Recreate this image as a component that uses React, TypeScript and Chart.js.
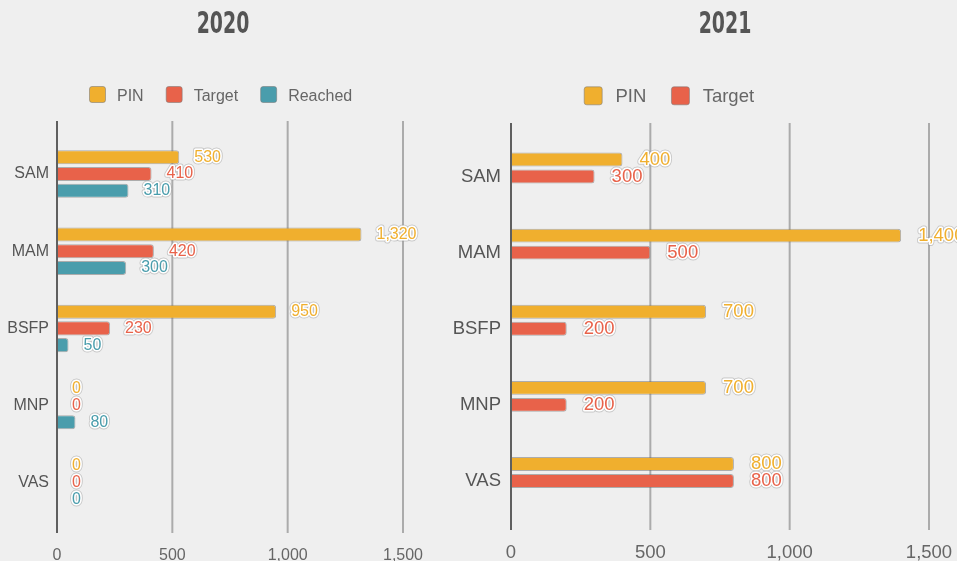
import React, { useEffect, useRef } from 'react';
import { Chart, registerables } from 'chart.js';

Chart.register(...registerables);

// ---------- data ----------
const categories = ['SAM', 'MAM', 'BSFP', 'MNP', 'VAS'];
const seriesNames = ['PIN', 'Target', 'Reached'];
const xTicks = [0, 500, 1000, 1500];

const pin2020 = [530, 1320, 950, 0, 0];
const target2020 = [410, 420, 230, 0, 0];
const reached2020 = [310, 300, 50, 80, 0];

const pin2021 = [400, 1400, 700, 700, 800];
const target2021 = [300, 500, 200, 200, 800];
const reached2021: (number | null)[] = [null, null, null, null, null];

const titles = ['2020', '2021'];

// ---------- styles ----------
const PIN_COLOR = '#F0AF2E';
const TARGET_COLOR = '#E8624A';
const REACHED_COLOR = '#4A9DAC';
const BG = '#EFEFEF';
const H = 561;
const FONT = '"Liberation Sans", Arial, sans-serif';

type DS = { label: string; data: (number | null)[]; color: string; legend: boolean };
type Spec = {
  width: number; left: number; fontSize: number;
  title: string; titleX: number; titleBaseline: number;
  legendX: number; legendBaseline: number; boxSize: number; boxCenterY: number; boxGap: number; itemGap: number;
  chartTop: number; chartBottom: number; yAxisWidth: number; padRight: number; yTickPad: number; xTickPad: number;
  gridTop: number; gridBottom: number; labelOffset: number; catPct: number; barPct: number;
  datasets: DS[];
};

const specs: Spec[] = [
  {
    width: 450, left: 0, fontSize: 16,
    title: titles[0], titleX: 223, titleBaseline: 33,
    legendX: 89, legendBaseline: 100.5, boxSize: 17, boxCenterY: 94.5, boxGap: 11, itemGap: 22,
    chartTop: 135.4, chartBottom: 521.4, yAxisWidth: 57, padRight: 47, yTickPad: 8, xTickPad: 25,
    gridTop: 121, gridBottom: 533, labelOffset: 15, catPct: 0.65, barPct: 0.84,
    datasets: [
      { label: seriesNames[0], data: pin2020, color: PIN_COLOR, legend: true },
      { label: seriesNames[1], data: target2020, color: TARGET_COLOR, legend: true },
      { label: seriesNames[2], data: reached2020, color: REACHED_COLOR, legend: true },
    ],
  },
  {
    width: 512, left: 445, fontSize: 18.5,
    title: titles[1], titleX: 280, titleBaseline: 33,
    legendX: 138.7, legendBaseline: 102, boxSize: 19, boxCenterY: 95.8, boxGap: 12.7, itemGap: 24.7,
    chartTop: 138.4, chartBottom: 519.1, yAxisWidth: 66, padRight: 28, yTickPad: 10, xTickPad: 23,
    gridTop: 123, gridBottom: 530, labelOffset: 17, catPct: 0.67, barPct: 0.82,
    datasets: [
      { label: seriesNames[0], data: pin2021, color: PIN_COLOR, legend: true },
      { label: seriesNames[1], data: target2021, color: TARGET_COLOR, legend: true },
      { label: seriesNames[2], data: reached2021, color: REACHED_COLOR, legend: false },
    ],
  },
];

function roundRect(ctx: CanvasRenderingContext2D, x: number, y: number, w: number, h: number, r: number) {
  ctx.beginPath();
  ctx.moveTo(x + r, y);
  ctx.lineTo(x + w - r, y);
  ctx.quadraticCurveTo(x + w, y, x + w, y + r);
  ctx.lineTo(x + w, y + h - r);
  ctx.quadraticCurveTo(x + w, y + h, x + w - r, y + h);
  ctx.lineTo(x + r, y + h);
  ctx.quadraticCurveTo(x, y + h, x, y + h - r);
  ctx.lineTo(x, y + r);
  ctx.quadraticCurveTo(x, y, x + r, y);
  ctx.closePath();
}

function makePlugins(spec: Spec) {
  const header = {
    id: 'header',
    afterDraw(chart: any) {
      const ctx: CanvasRenderingContext2D = chart.ctx;
      ctx.save();
      // title (condensed look)
      ctx.save();
      ctx.translate(spec.titleX, spec.titleBaseline);
      ctx.scale(0.7, 1);
      ctx.font = 'bold 30px "Liberation Sans Narrow", "DejaVu Sans Condensed", sans-serif';
      ctx.fillStyle = '#555555';
      ctx.textAlign = 'center';
      ctx.textBaseline = 'alphabetic';
      ctx.fillText(spec.title, 0, 0);
      ctx.restore();
      // legend
      let x = spec.legendX;
      ctx.font = `${spec.fontSize}px ${FONT}`;
      ctx.textAlign = 'left';
      ctx.textBaseline = 'alphabetic';
      spec.datasets.filter((d) => d.legend).forEach((d) => {
        const b = spec.boxSize;
        roundRect(ctx, x + 0.5, spec.boxCenterY - b / 2 + 0.5, b - 1, b - 1, 2.5);
        ctx.fillStyle = d.color;
        ctx.fill();
        ctx.strokeStyle = 'rgba(120,120,120,0.55)';
        ctx.lineWidth = 1;
        ctx.stroke();
        const tx = x + b + spec.boxGap;
        ctx.fillStyle = '#666666';
        ctx.fillText(d.label, tx, spec.legendBaseline);
        x = tx + ctx.measureText(d.label).width + spec.itemGap;
      });
      ctx.restore();
    },
  };

  const grid = {
    id: 'vgrid',
    beforeDatasetsDraw(chart: any) {
      const ctx: CanvasRenderingContext2D = chart.ctx;
      const xs = chart.scales.x;
      ctx.save();
      ctx.strokeStyle = '#ababab';
      ctx.lineWidth = 2;
      xTicks.forEach((v) => {
        if (v === 0) return;
        const x = xs.getPixelForValue(v);
        ctx.beginPath();
        ctx.moveTo(x, spec.gridTop);
        ctx.lineTo(x, spec.gridBottom);
        ctx.stroke();
      });
      ctx.restore();
    },
    afterDatasetsDraw(chart: any) {
      const ctx: CanvasRenderingContext2D = chart.ctx;
      const xs = chart.scales.x;
      ctx.save();
      const x0 = xs.getPixelForValue(0);
      ctx.strokeStyle = '#5f5f5f';
      ctx.lineWidth = 2;
      ctx.beginPath();
      ctx.moveTo(x0, spec.gridTop);
      ctx.lineTo(x0, spec.gridBottom);
      ctx.stroke();

      // value labels
      ctx.font = `${spec.fontSize}px ${FONT}`;
      ctx.textAlign = 'left';
      ctx.textBaseline = 'middle';
      ctx.lineJoin = 'round';
      chart.data.datasets.forEach((ds: any, i: number) => {
        const meta = chart.getDatasetMeta(i);
        meta.data.forEach((el: any, j: number) => {
          const v = ds.data[j];
          if (v === null || v === undefined) return;
          const { x, y } = el.getProps(['x', 'y'], true);
          const text = Number(v).toLocaleString('en-US');
          const tx = x + spec.labelOffset;
          ctx.strokeStyle = 'rgba(150,150,150,0.45)';
          ctx.lineWidth = 5;
          ctx.strokeText(text, tx, y);
          ctx.strokeStyle = '#ffffff';
          ctx.lineWidth = 3.2;
          ctx.strokeText(text, tx, y);
          ctx.fillStyle = ds.backgroundColor;
          ctx.fillText(text, tx, y);
        });
      });
      ctx.restore();
    },
  };
  return [grid, header];
}

function BarPanel({ spec }: { spec: Spec }) {
  const ref = useRef<HTMLCanvasElement | null>(null);
  useEffect(() => {
    if (!ref.current) return;
    const chart = new Chart(ref.current, {
      type: 'bar',
      data: {
        labels: categories,
        datasets: spec.datasets.map((d) => ({
          label: d.label,
          data: d.data,
          backgroundColor: d.color,
          borderColor: 'rgba(105,105,105,0.5)',
          borderWidth: 1,
          borderRadius: 3,
          borderSkipped: 'start',
          categoryPercentage: spec.catPct,
          barPercentage: spec.barPct,
        })) as any,
      },
      options: {
        indexAxis: 'y',
        responsive: false,
        maintainAspectRatio: false,
        animation: false,
        devicePixelRatio: 1,
        layout: { padding: { top: spec.chartTop, left: 0, right: spec.padRight, bottom: 0 } },
        plugins: {
          legend: { display: false },
          title: { display: false },
          tooltip: { enabled: false },
        },
        events: [],
        scales: {
          x: {
            type: 'linear',
            min: xTicks[0],
            max: xTicks[xTicks.length - 1],
            grid: { display: false, drawTicks: false },
            border: { display: false },
            afterBuildTicks: (s: any) => { s.ticks = xTicks.map((v) => ({ value: v })); },
            afterFit: (s: any) => {
              s.height = H - spec.chartBottom;
              s.paddingLeft = 0;
              s.paddingRight = 0;
            },
            ticks: {
              padding: spec.xTickPad,
              color: '#666666',
              font: { family: FONT, size: spec.fontSize },
              maxRotation: 0,
              callback: (v: any) => Number(v).toLocaleString('en-US'),
            },
          },
          y: {
            grid: { display: false, drawTicks: false },
            border: { display: false },
            afterFit: (s: any) => {
              s.width = spec.yAxisWidth;
              s.paddingTop = 0;
              s.paddingBottom = 0;
            },
            ticks: {
              padding: spec.yTickPad,
              color: '#555555',
              font: { family: FONT, size: spec.fontSize },
            },
          },
        },
      } as any,
      plugins: makePlugins(spec) as any,
    });
    return () => chart.destroy();
  }, [spec]);
  return (
    <canvas
      ref={ref}
      width={spec.width}
      height={H}
      style={{ position: 'absolute', left: spec.left, top: 0, width: spec.width, height: H, display: 'block' }}
    />
  );
}

export default function App() {
  return (
    <div
      style={{
        position: 'fixed', left: 0, top: 0, width: 957, height: H,
        background: BG, overflow: 'hidden', fontFamily: FONT,
      }}
    >
      {specs.map((s, i) => <BarPanel key={i} spec={s} />)}
    </div>
  );
}
